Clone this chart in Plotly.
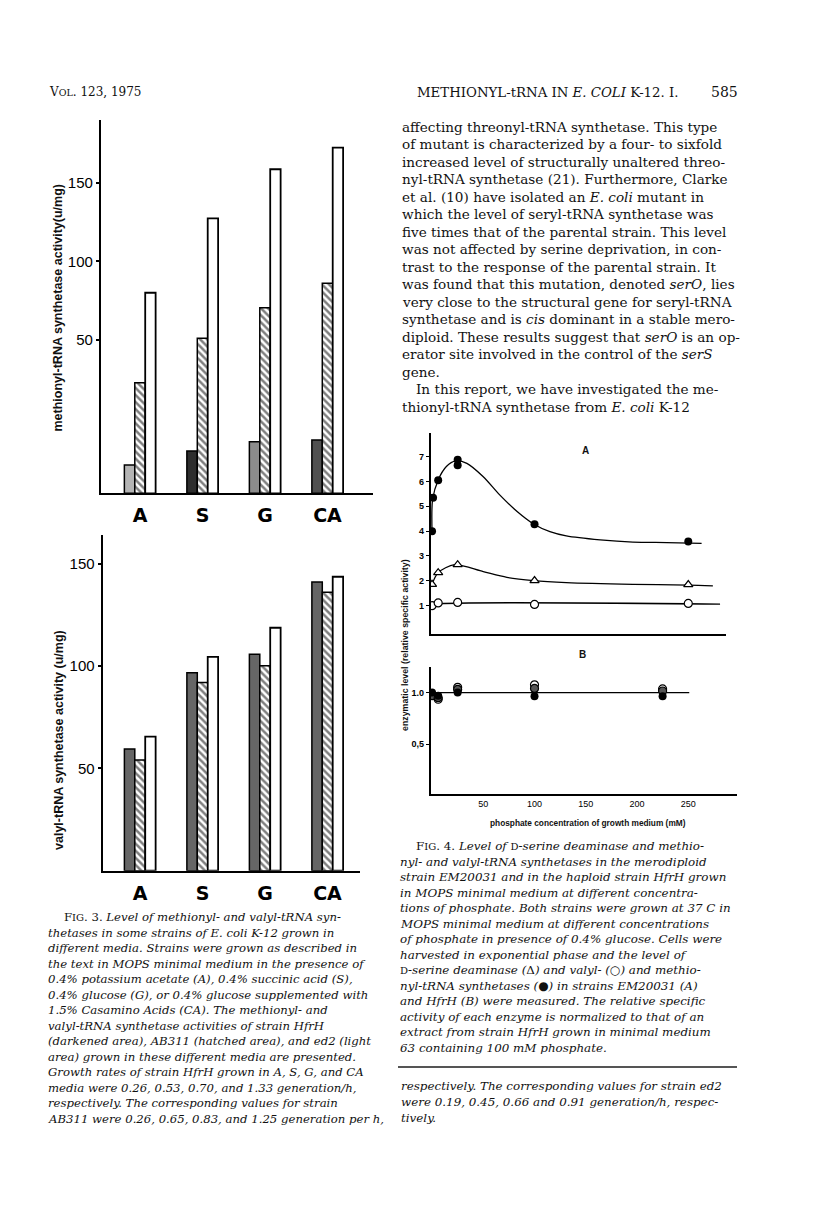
import plotly.graph_objects as go

W, H = 816, 1217

# ---------------- Fig. 3 data ----------------
media = ["A", "S", "G", "CA"]
# methionyl-tRNA synthetase activity (u/mg), values on the printed tick scale
met_hfrh = [-29.5, -20.6, -14.7, -13.6]
met_ab311 = [22.8, 51.0, 70.5, 86.0]
met_ed2 = [80.0, 127.3, 158.5, 172.2]
met_ticks = [50, 100, 150]
# valyl-tRNA synthetase activity (u/mg)
val_hfrh = [59.4, 96.7, 105.7, 141.1]
val_ab311 = [54.1, 91.9, 100.1, 136.0]
val_ed2 = [65.5, 104.5, 118.7, 143.6]
val_ticks = [50, 100, 150]

# ---------------- Fig. 4 data ----------------
# panel A : strain EM20031
a_met_x = [0, 1, 6, 25, 25, 100, 250]
a_met_y = [4.0, 5.35, 6.05, 6.87, 6.65, 4.28, 3.58]
a_met_fit_x = [0, 0.5, 6, 14, 23, 34, 50, 66, 83, 99, 115, 131, 164, 196, 229, 263]
a_met_fit_y = [3.98, 5.26, 6.06, 6.6, 6.83, 6.73, 6.19, 5.46, 4.79, 4.29, 3.98, 3.81, 3.65, 3.56, 3.54, 3.51]
a_dsd_x = [0, 6, 25, 100, 250]
a_dsd_y = [1.86, 2.33, 2.65, 2.01, 1.85]
a_dsd_fit_x = [0, 6, 22, 50, 73, 99, 131, 196, 250, 274]
a_dsd_fit_y = [1.86, 2.33, 2.65, 2.37, 2.14, 2.01, 1.93, 1.86, 1.83, 1.80]
a_val_x = [0, 6, 25, 100, 250]
a_val_y = [1.0, 1.11, 1.13, 1.05, 1.09]
a_val_fit_x = [0, 4, 281]
a_val_fit_y = [1.0, 1.06, 1.06]
a_ticks = [1, 2, 3, 4, 5, 6, 7]
# panel B : strain HfrH
b_x = [0, 6, 25, 100, 225]
b_val_y = [0.98, 0.935, 1.05, 1.075, 1.035]
b_dsd_y = [0.97, 0.95, 1.03, 1.04, 1.015]
b_met_y = [1.0, 0.97, 1.0, 0.965, 0.965]
b_fit_x = [0, 251]
b_fit_y = [1.0, 1.0]
b_ticks = [0.5, 1.0]
b_ticktext = ["0,5", "1.0"]
phos_ticks = [50, 100, 150, 200, 250]

# ---------------- helpers ----------------
def px(x):
    return x / W

def py(y):
    return 1 - y / H

SANS = "Liberation Sans, Arial, sans-serif"
SERIF = "DejaVu Serif, Liberation Serif, serif"

fig = go.Figure()

# ---------------- Fig. 3 bars ----------------
MET_FLOOR = -47.5
hatch = dict(shape="\\", fgcolor="black", bgcolor="white", size=5, solidity=0.5)
dark_top_colors = ["#b4b4b4", "#2e2e2e", "#8c8c8c", "#505050"]
series_top = [
    (met_hfrh, dict(color=dark_top_colors, line=dict(color="black", width=1.5))),
    (met_ab311, dict(color="white", line=dict(color="black", width=1.5), pattern=hatch)),
    (met_ed2, dict(color="white", line=dict(color="black", width=1.8))),
]
for vals, mk in series_top:
    fig.add_trace(go.Bar(x=media, y=[v - MET_FLOOR for v in vals], base=MET_FLOOR,
                         marker=mk, xaxis="x", yaxis="y", hoverinfo="skip"))

series_bot = [
    (val_hfrh, dict(color="#666666", line=dict(color="black", width=1.5))),
    (val_ab311, dict(color="white", line=dict(color="black", width=1.5), pattern=hatch)),
    (val_ed2, dict(color="white", line=dict(color="black", width=1.8))),
]
for vals, mk in series_bot:
    fig.add_trace(go.Bar(x=media, y=vals, marker=mk, xaxis="x2", yaxis="y2", hoverinfo="skip"))

# ---------------- Fig. 4 ----------------
fit_line = dict(color="black", width=1.3, shape="spline", smoothing=0.8)
for fx, fy, ax, ay in [(a_met_fit_x, a_met_fit_y, "x3", "y3"),
                       (a_dsd_fit_x, a_dsd_fit_y, "x3", "y3"),
                       (a_val_fit_x, a_val_fit_y, "x3", "y3"),
                       (b_fit_x, b_fit_y, "x4", "y4")]:
    fig.add_trace(go.Scatter(x=fx, y=fy, mode="lines", line=fit_line, xaxis=ax, yaxis=ay,
                             hoverinfo="skip"))

open_c = dict(symbol="circle", size=8, color="white", line=dict(color="black", width=1.2))
fig.add_trace(go.Scatter(x=a_met_x, y=a_met_y, mode="markers", xaxis="x3", yaxis="y3",
                         marker=dict(symbol="circle", size=8, color="black")))
fig.add_trace(go.Scatter(x=a_dsd_x, y=a_dsd_y, mode="markers", xaxis="x3", yaxis="y3",
                         marker=dict(symbol="triangle-up", size=8, color="white",
                                     line=dict(color="black", width=1.2))))
fig.add_trace(go.Scatter(x=a_val_x, y=a_val_y, mode="markers", xaxis="x3", yaxis="y3",
                         marker=open_c))

fig.add_trace(go.Scatter(x=b_x, y=b_val_y, mode="markers", xaxis="x4", yaxis="y4",
                         marker=open_c))
fig.add_trace(go.Scatter(x=b_x, y=b_dsd_y, mode="markers", xaxis="x4", yaxis="y4",
                         marker=dict(symbol="circle", size=8, color="#555",
                                     line=dict(color="black", width=1.2))))
fig.add_trace(go.Scatter(x=b_x, y=b_met_y, mode="markers", xaxis="x4", yaxis="y4",
                         marker=dict(symbol="circle", size=8, color="black")))

# ---------------- axes ----------------
cat_font = dict(family="DejaVu Sans, sans-serif", size=19, color="black", weight="bold")
big_tick_font = dict(family=SANS, size=15, color="black")
small_tick_font = dict(family=SANS, size=9, color="black", weight="bold")

def bar_xaxis(domain, rng, anchor):
    return dict(domain=domain, range=rng, anchor=anchor, showline=True, linecolor="black",
                linewidth=2.2, showgrid=False, zeroline=False, ticks="outside", ticklen=4,
                tickcolor="rgba(0,0,0,0)", tickfont=cat_font, fixedrange=True)

def bar_yaxis(domain, rng, anchor, tv):
    return dict(domain=domain, range=rng, anchor=anchor, showline=True, linecolor="black",
                linewidth=2.2, showgrid=False, zeroline=False, ticks="outside", ticklen=3,
                tickwidth=1.5, tickcolor="black", tickvals=tv, tickfont=big_tick_font,
                fixedrange=True)

fig.update_layout(
    width=W, height=H, margin=dict(l=0, r=0, t=0, b=0),
    paper_bgcolor="white", plot_bgcolor="white", showlegend=False,
    barmode="group", bargap=0.5, bargroupgap=0,
    xaxis=bar_xaxis([px(101), px(373)], [-0.624, 3.728], "y"),
    yaxis=bar_yaxis([py(493.3), py(120)], [MET_FLOOR, 189.8], "x", met_ticks),
    xaxis2=bar_xaxis([px(102.7), px(360)], [-0.597, 3.52], "y2"),
    yaxis2=bar_yaxis([py(870.7), py(535)], [0, 164], "x2", val_ticks),
    xaxis3=dict(domain=[px(430.7), px(726)], range=[-1.3, 286.8], anchor="y3", showline=True,
                linecolor="black", linewidth=1.6, showgrid=False, zeroline=False,
                showticklabels=False, ticks="", fixedrange=True),
    yaxis3=dict(domain=[py(634.3), py(433.3)], range=[-0.153, 7.94], anchor="x3", showline=True,
                linecolor="black", linewidth=1.6, showgrid=False, zeroline=False,
                ticks="outside", ticklen=3, tickwidth=1, tickcolor="black", tickvals=a_ticks,
                tickfont=small_tick_font, fixedrange=True),
    xaxis4=dict(domain=[px(430.7), px(737)], range=[-1.3, 297.6], anchor="y4", showline=True,
                linecolor="black", linewidth=1.6, showgrid=False, zeroline=False,
                ticks="", tickvals=phos_ticks, tickfont=dict(family=SANS, size=9, color="black"),
                fixedrange=True),
    yaxis4=dict(domain=[py(794), py(666.7)], range=[0.018, 1.25], anchor="x4", showline=True,
                linecolor="black", linewidth=1.6, showgrid=False, zeroline=False,
                ticks="outside", ticklen=3, tickwidth=1, tickcolor="black", tickvals=b_ticks,
                ticktext=b_ticktext, tickfont=small_tick_font, fixedrange=True),
)

# ---------------- annotations ----------------
ann = []

def text(x, y, s, size, family=SERIF, anchor="left", angle=0, weight="normal", color="#111"):
    ann.append(dict(x=px(x), y=py(y), xref="paper", yref="paper", text=s, showarrow=False,
                    xanchor=anchor, yanchor="middle", textangle=angle,
                    font=dict(family=family, size=size, color=color, weight=weight)))

# axis titles
text(58, 307.5, "methionyl-tRNA synthetase activity(u/mg)", 12.5, SANS, "center", -90, "bold")
text(59, 740, "valyl-tRNA synthetase activity (u/mg)", 12.5, SANS, "center", -90, "bold")
text(405, 645, "enzymatic level (relative specific activity)", 8.8, SANS, "center", -90, "bold")
text(588, 823, "phosphate concentration of growth medium (mM)", 8.3, SANS, "center", 0, "bold")
text(585, 451, "A", 10, SANS, "center", 0, "bold")
text(582, 654, "B", 10, SANS, "center", 0, "bold")

# running head
SC = "<span style='font-size:9.5px'>"
SC2 = "<span style='font-size:10px'>"
text(47, 92, "V" + SC + "OL</span>. 123, 1975", 12)
text(415, 92, "METHIONYL-tRNA IN <i>E. COLI</i> K-12. I.", 13.3)
text(709, 92, "585", 14)

# body text, right column
body = [
    "affecting threonyl-tRNA synthetase. This type",
    "of mutant is characterized by a four- to sixfold",
    "increased level of structurally unaltered threo-",
    "nyl-tRNA synthetase (21). Furthermore, Clarke",
    "et al. (10) have isolated an <i>E. coli</i> mutant in",
    "which the level of seryl-tRNA synthetase was",
    "five times that of the parental strain. This level",
    "was not affected by serine deprivation, in con-",
    "trast to the response of the parental strain. It",
    "was found that this mutation, denoted <i>serO</i>, lies",
    "very close to the structural gene for seryl-tRNA",
    "synthetase and is <i>cis</i> dominant in a stable mero-",
    "diploid. These results suggest that <i>serO</i> is an op-",
    "erator site involved in the control of the <i>serS</i>",
    "gene.",
    "In this report, we have investigated the me-",
    "thionyl-tRNA synthetase from <i>E. coli</i> K-12",
]
for i, s in enumerate(body):
    text(414 if i == 15 else 400, 126.7 + 17.5 * i, s, 13.6)

cap3 = [
    "F" + SC2 + "IG</span>. 3. <i>Level of methionyl- and valyl-tRNA syn-</i>",
    "<i>thetases in some strains of E. coli K-12 grown in</i>",
    "<i>different media. Strains were grown as described in</i>",
    "<i>the text in MOPS minimal medium in the presence of</i>",
    "<i>0.4% potassium acetate (A), 0.4% succinic acid (S),</i>",
    "<i>0.4% glucose (G), or 0.4% glucose supplemented with</i>",
    "<i>1.5% Casamino Acids (CA). The methionyl- and</i>",
    "<i>valyl-tRNA synthetase activities of strain HfrH</i>",
    "<i>(darkened area), AB311 (hatched area), and ed2 (light</i>",
    "<i>area) grown in these different media are presented.</i>",
    "<i>Growth rates of strain HfrH grown in A, S, G, and CA</i>",
    "<i>media were 0.26, 0.53, 0.70, and 1.33 generation/h,</i>",
    "<i>respectively. The corresponding values for strain</i>",
    "<i>AB311 were 0.26, 0.65, 0.83, and 1.25 generation per h,</i>",
]
for i, s in enumerate(cap3):
    text(61.7 if i == 0 else 45.7, 917.3 + 15.5 * i, s, 11.7)

cap4 = [
    "F" + SC2 + "IG</span>. 4. <i>Level of </i>" + SC2 + "D</span><i>-serine deaminase and methio-</i>",
    "<i>nyl- and valyl-tRNA synthetases in the merodiploid</i>",
    "<i>strain EM20031 and in the haploid strain HfrH grown</i>",
    "<i>in MOPS minimal medium at different concentra-</i>",
    "<i>tions of phosphate. Both strains were grown at 37 C in</i>",
    "<i>MOPS minimal medium at different concentrations</i>",
    "<i>of phosphate in presence of 0.4% glucose. Cells were</i>",
    "<i>harvested in exponential phase and the level of</i>",
    SC2 + "D</span><i>-serine deaminase (</i>\u0394<i>) and valyl- (</i>\u25cb<i>) and methio-</i>",
    "<i>nyl-tRNA synthetases (</i>\u25cf<i>) in strains EM20031 (A)</i>",
    "<i>and HfrH (B) were measured. The relative specific</i>",
    "<i>activity of each enzyme is normalized to that of an</i>",
    "<i>extract from strain HfrH grown in minimal medium</i>",
    "<i>63 containing 100 mM phosphate.</i>",
]
for i, s in enumerate(cap4):
    text(414 if i == 0 else 398, 846 + 15.5 * i, s, 11.9)

tail = [
    "<i>respectively. The corresponding values for strain ed2</i>",
    "<i>were 0.19, 0.45, 0.66 and 0.91 generation/h, respec-</i>",
    "<i>tively.</i>",
]
for i, s in enumerate(tail):
    text(399, 1086 + 15.8 * i, s, 11.9)

fig.update_layout(annotations=ann)
fig.add_shape(type="line", xref="paper", yref="paper", x0=px(398), x1=px(737),
              y0=py(1067), y1=py(1067), line=dict(color="#555", width=2))

fig.write_html("out.html", config={"displayModeBar": False},
               post_script="document.body.style.margin='0';")
